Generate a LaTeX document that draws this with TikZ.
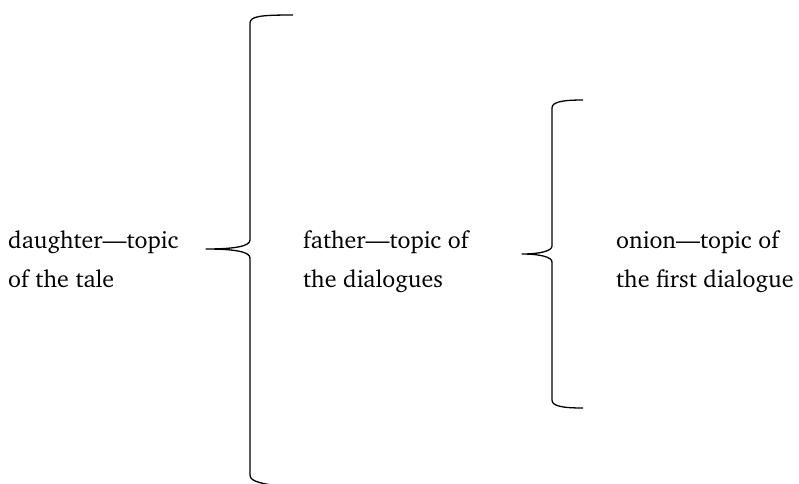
\documentclass[tikz,border=0pt]{standalone}
\usepackage[T1]{fontenc}
\usepackage{charter}
\begin{document}
\begin{tikzpicture}[x=1pt,y=-1pt,
  lbl/.style={anchor=base west, inner sep=0pt, align=left, font=\fontsize{24}{39}\selectfont},
  brace/.style={line width=1.3pt, line join=round}]
\useasboundingbox (0,0) rectangle (799,483);
\clip (0,0) rectangle (799,483);
% labels (anchored at the baseline of the last line)
\node[lbl] (daughter) at (8,287) {daughter---topic\\of the tale};
\node[lbl] (father) at (303,287) {father---topic of\\the dialogues};
\node[lbl] (onion) at (616,287) {onion---topic of\\the first dialogue};
% brace 1
\coordinate (b1tip) at (206,249);
\coordinate (b1top) at (293,15);
\coordinate (b1bot) at (293,488);
\draw[brace] (b1top) .. controls (262,15) and (250,16) .. (250,23)
  -- (250,240) .. controls (250,246) and (236,249) .. (b1tip)
  .. controls (236,249) and (250,252) .. (250,258)
  -- (250,475) .. controls (250,482) and (262,484) .. (b1bot);
% brace 2
\coordinate (b2tip) at (522,254);
\coordinate (b2top) at (583,100);
\coordinate (b2bot) at (583,408);
\draw[brace] (b2top) .. controls (562,100) and (552,102) .. (552,108)
  -- (552,246) .. controls (552,251) and (540,254) .. (b2tip)
  .. controls (540,254) and (552,257) .. (552,262)
  -- (552,400) .. controls (552,406) and (562,408) .. (b2bot);
\end{tikzpicture}
\end{document}
